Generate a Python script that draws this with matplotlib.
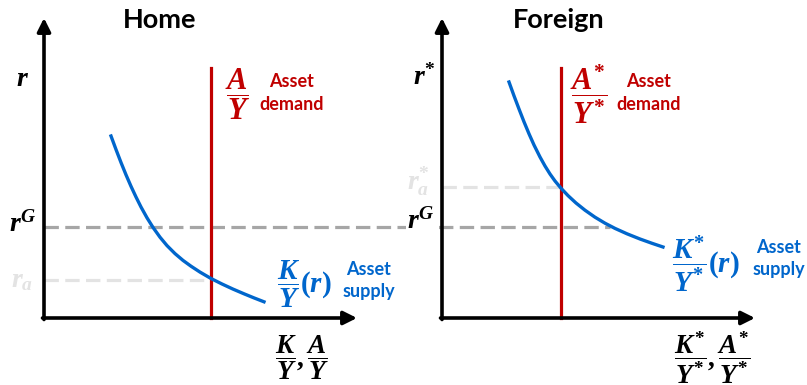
import matplotlib
matplotlib.use('Agg')
import matplotlib.pyplot as plt

plt.rcParams['font.family'] = ['Lato', 'DejaVu Sans']
plt.rcParams['mathtext.fontset'] = 'custom'
plt.rcParams['mathtext.it'] = 'Liberation Serif:italic:bold'
plt.rcParams['mathtext.rm'] = 'Liberation Serif:bold'
plt.rcParams['mathtext.bf'] = 'Liberation Serif:bold'

RED = '#c00000'
BLUE = '#0066cc'
GRAY = '#a6a6a6'
LIGHT = '#e3e3e3'

# everything in pixel units (y grows downward)
titles = ['Home', 'Foreign']
origin_x = [44, 442]
origin_y = 318
axis_top = 18
axis_right = [357, 755]

demand_x = [211, 561]
demand_top = 68

home_curve_x = [111, 116, 121, 126, 131, 136, 141, 147, 153, 160, 167, 175, 183, 191, 200,
                211, 222, 233, 244, 254, 264]
home_curve_y = [136, 149.5, 162.5, 174.8, 186.3, 197, 207, 217.8, 227.4, 237.2, 245.6, 253.6,
                260.4, 266.2, 272.1, 278.5, 284, 289.1, 293.8, 297.9, 301.8]
foreign_curve_x = [509, 514, 519, 524, 529, 534, 540, 545, 550, 555, 561, 568, 576, 585, 595,
                   605, 615, 627, 640, 652, 663]
foreign_curve_y = [82, 95.8, 109, 121.8, 133.8, 145, 157, 166, 174, 181, 188.2, 195.6, 203,
                   210.2, 217.2, 223.2, 228.4, 233.8, 239, 243.3, 247]

r_global = 227
r_global_end = 610
r_autarky = [280, 187]

y_labels = [r'$r$', r'$r^{*}$']
rg_label = r'$r^{G}$'
ra_labels = [r'$r_{a}$', r'$r_{a}^{*}$']
demand_labels = [r'$\dfrac{A}{Y}$', r'$\dfrac{A^{*}}{Y^{*}}$']
supply_labels = [r'$\dfrac{K}{Y}(r)$', r'$\dfrac{K^{*}}{Y^{*}}(r)$']
x_labels = [r'$\dfrac{K}{Y},\dfrac{A}{Y}$', r'$\dfrac{K^{*}}{Y^{*}},\dfrac{A^{*}}{Y^{*}}$']

fig = plt.figure(figsize=(8.07, 3.85), dpi=100)
ax = fig.add_axes([0, 0, 1, 1])
ax.set_xlim(0, 807)
ax.set_ylim(385, 0)
ax.axis('off')

# r^G line runs across both panels
ax.plot([origin_x[0], r_global_end], [r_global, r_global], color=GRAY, lw=2.3,
        dashes=(4.5, 2), zorder=2)

curves = [(home_curve_x, home_curve_y), (foreign_curve_x, foreign_curve_y)]

for i in range(2):
    ox = origin_x[i]
    # axes with arrows
    ax.annotate('', xy=(ox, axis_top), xytext=(ox, origin_y + 1.5),
                arrowprops=dict(arrowstyle='-|>', lw=2.6, color='black',
                                mutation_scale=20, shrinkA=0, shrinkB=0), zorder=5)
    ax.annotate('', xy=(axis_right[i], origin_y), xytext=(ox - 1.5, origin_y),
                arrowprops=dict(arrowstyle='-|>', lw=2.6, color='black',
                                mutation_scale=20, shrinkA=0, shrinkB=0), zorder=5)

    # autarky rate
    ax.plot([ox, demand_x[i]], [r_autarky[i], r_autarky[i]], color=LIGHT, lw=2.3,
            dashes=(4.5, 2), zorder=1)

    # asset demand
    ax.plot([demand_x[i], demand_x[i]], [demand_top, origin_y], color=RED, lw=2.3, zorder=3)

    # asset supply
    cx, cy = curves[i]
    ax.plot(cx, cy, color=BLUE, lw=2.4, zorder=4, solid_joinstyle='round')

for i, t in enumerate(titles):
    ax.text([160, 559][i], 28, t, fontsize=19.5, fontweight='bold', ha='center', va='baseline')

# axis labels
ax.text(22, 78, y_labels[0], fontsize=20, ha='center', va='center')
ax.text(424, 76, y_labels[1], fontsize=20, ha='center', va='center')
ax.text(23, 223, rg_label, fontsize=20, ha='center', va='center')
ax.text(421, 220, rg_label, fontsize=20, ha='center', va='center',
        bbox=dict(facecolor='white', edgecolor='none', pad=0.5))
ax.text(22, 280, ra_labels[0], fontsize=20, ha='center', va='center', color=LIGHT)
ax.text(418, 181, ra_labels[1], fontsize=20, ha='center', va='center', color=LIGHT)


def two_lines(x, y_top, y_bottom, first, second, color):
    ax.text(x, y_top, first, fontsize=13, fontweight='bold', ha='center',
            va='baseline', color=color)
    ax.text(x, y_bottom, second, fontsize=13, fontweight='bold', ha='center',
            va='baseline', color=color)


# demand labels
ax.text(238, 94, demand_labels[0], fontsize=22, ha='center', va='center', color=RED)
ax.text(589, 94, demand_labels[1], fontsize=22, ha='center', va='center', color=RED)
two_lines(292, 87, 110, 'Asset', 'demand', RED)
two_lines(649, 87, 110, 'Asset', 'demand', RED)

# supply labels
ax.text(304, 284, supply_labels[0], fontsize=21, ha='center', va='center', color=BLUE)
ax.text(706, 264, supply_labels[1], fontsize=21, ha='center', va='center', color=BLUE)
two_lines(369, 275, 297, 'Asset', 'supply', BLUE)
two_lines(779, 253, 275, 'Asset', 'supply', BLUE)

# x labels
ax.text(302, 358, x_labels[0], fontsize=19.5, ha='center', va='center')
ax.text(712, 358, x_labels[1], fontsize=19.5, ha='center', va='center')

fig.savefig('out.png', dpi=100)
